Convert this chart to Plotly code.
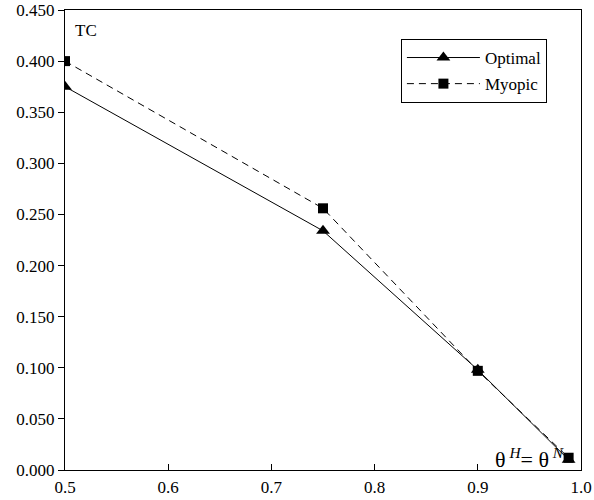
import plotly.graph_objects as go

theta = [0.5, 0.75, 0.9, 0.988]
optimal = [0.375, 0.234, 0.098, 0.010]
myopic = [0.400, 0.256, 0.097, 0.012]
xticks = [0.5, 0.6, 0.7, 0.8, 0.9, 1.0]
yticks = [0.0, 0.05, 0.1, 0.15, 0.2, 0.25, 0.3, 0.35, 0.4, 0.45]

font = dict(family="Liberation Serif", size=17, color="black")

fig = go.Figure()
fig.add_trace(go.Scatter(
    x=theta, y=optimal, name="Optimal", mode="lines+markers", legendgroup="a",
    line=dict(color="black", width=1),
    marker=dict(symbol="triangle-up", size=12, color="black"),
))
fig.add_trace(go.Scatter(
    x=theta, y=myopic, name="Myopic", mode="lines+markers", legendgroup="b",
    line=dict(color="black", width=1, dash="7px,5px"),
    marker=dict(symbol="square", size=10, color="black"),
))

fig.add_annotation(x=0.5, y=0.43, xref="x", yref="y", text="TC", showarrow=False,
                   xanchor="left", yanchor="middle", xshift=8, font=font)
fig.add_annotation(x=0.985, y=0.012, xref="x", yref="y",
                   text="θ<sup> <i>H</i></sup>= θ<sup> <i>N</i></sup>", showarrow=False,
                   xanchor="right", yanchor="middle",
                   font=dict(family="Liberation Serif", size=22, color="black"))

fig.update_layout(
    width=594, height=500,
    margin=dict(l=65, r=13, t=10, b=30),
    paper_bgcolor="white", plot_bgcolor="white",
    font=font,
    showlegend=True,
    legend=dict(x=0.651, y=0.937, xanchor="left", yanchor="top",
                bordercolor="black", borderwidth=1, bgcolor="white",
                itemwidth=73, font=font, traceorder="grouped", tracegroupgap=1),
    xaxis=dict(range=[0.5, 1.0], tickvals=xticks, ticktext=[f"{v:.1f}" for v in xticks],
               ticks="inside", ticklen=6, tickcolor="black", showgrid=False, zeroline=False,
               showline=True, linecolor="black", linewidth=1, mirror=True, automargin=False,
               ticklabelstandoff=2),
    yaxis=dict(range=[0, 0.45], tickvals=yticks, ticktext=[f"{v:.3f}" for v in yticks],
               ticks="outside", ticklen=6, tickcolor="black", showgrid=False, zeroline=False,
               showline=True, linecolor="black", linewidth=1, mirror=True, automargin=False),
)

fig.write_html("out.html")
